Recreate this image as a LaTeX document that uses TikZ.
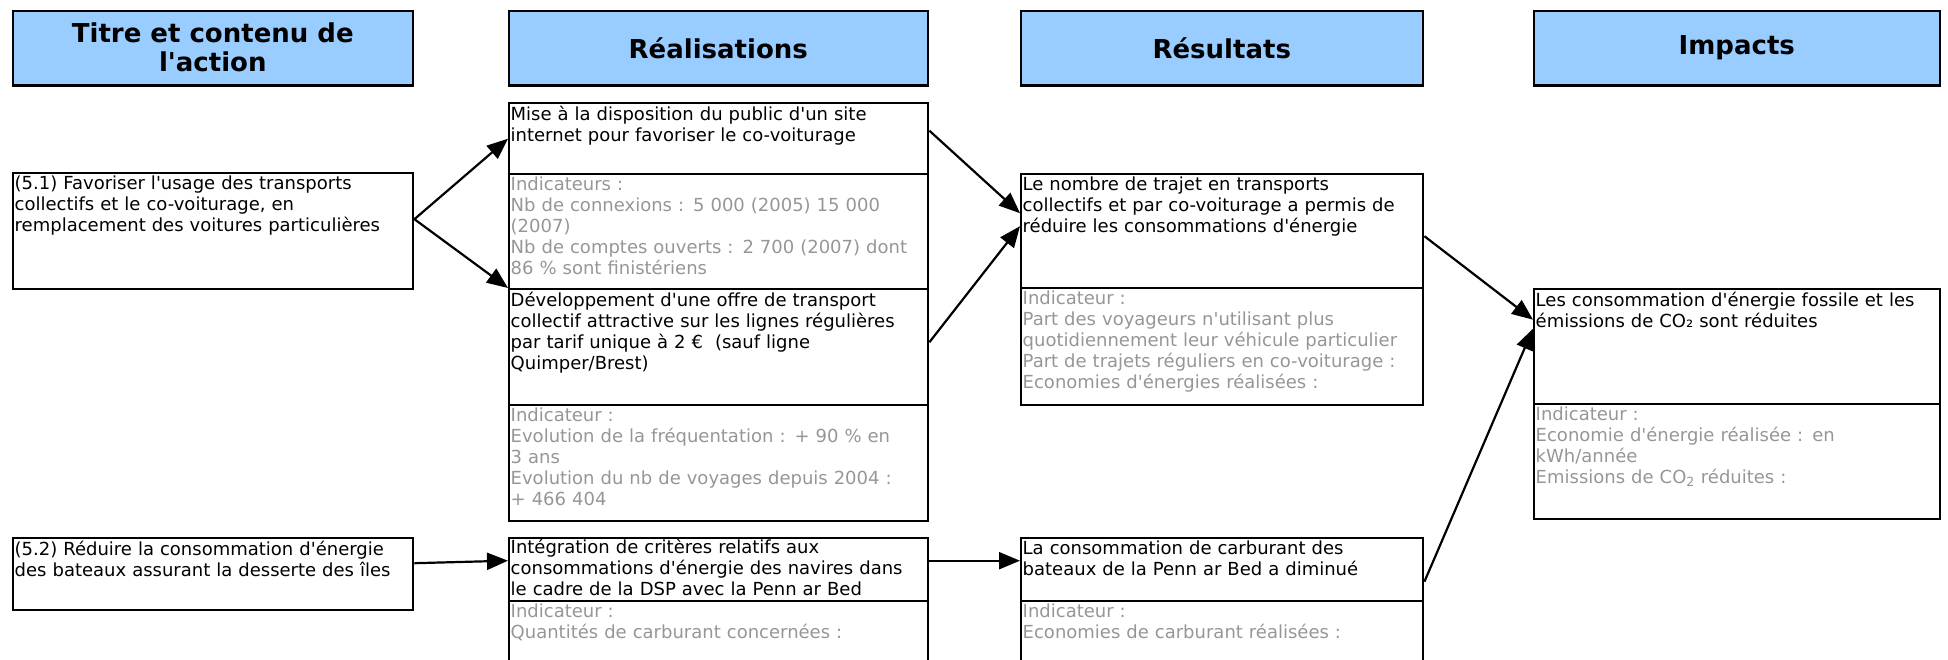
\documentclass[tikz,border=0pt]{standalone}
\usepackage{fontspec}
\setmainfont{DejaVu Sans}[Ligatures=TeXOff]
\usetikzlibrary{arrows.meta}
\definecolor{headblue}{RGB}{153,204,255}
\definecolor{indgray}{RGB}{150,150,150}
\begin{document}
\begin{tikzpicture}[x=1pt,y=-1pt]
	\tikzset{
		head/.style={draw, line width=1.6pt, fill=headblue, anchor=north west, inner sep=0pt, align=center, font=\fontsize{26}{29}\selectfont\bfseries},
		part/.style={draw, line width=2.4pt, anchor=north west, inner sep=0pt},
		txt/.style={anchor=north west, inner xsep=2.5pt, inner ysep=3.5pt, align=left, font=\fontsize{18}{21}\selectfont},
		ind/.style={txt, text=indgray},
		link/.style={-{Triangle[length=21pt,width=17pt]}, line width=2.2pt}
	}
	\useasboundingbox (0,0) rectangle (1948,660);
	\node[head, minimum width=400pt, minimum height=74pt] (h1) at (12,10) {Titre et contenu de\\l'action};
	\node[head, minimum width=419pt, minimum height=74pt] (h2) at (508,10) {Réalisations};
	\node[head, minimum width=402pt, minimum height=74pt] (h3) at (1020,10) {Résultats};
	\node[head, minimum width=406pt, minimum height=74pt] (h4) at (1533,10) {Impacts};
	\foreach \h in {h1,h2,h3,h4}
		\draw[line width=3.5pt] (\h.south west) -- (\h.south east);

	\node[part, minimum width=400pt, minimum height=116pt] (a1) at (12,172) {};
	\node[txt, text width=395pt] (a1t) at (a1.north west) {(5.1) Favoriser l'usage des transports\\collectifs et le co-voiturage, en\\remplacement des voitures particulières};
	\node[part, minimum width=400pt, minimum height=72pt] (a2) at (12,537) {};
	\node[txt, text width=395pt] (a2t) at (a2.north west) {(5.2) Réduire la consommation d'énergie\\des bateaux assurant la desserte des îles};

	\node[part, minimum width=419pt, minimum height=71pt] (r1) at (508,102) {};
	\node[txt, text width=414pt] (r1t) at (r1.north west) {Mise à la disposition du public d'un site\\internet pour favoriser le co-voiturage};
	\node[part, minimum width=419pt, minimum height=115pt] (r1i) at (508,173) {};
	\node[ind, text width=414pt] (r1it) at (r1i.north west) {Indicateurs :\\Nb de connexions : 5 000 (2005) 15 000\\(2007)\\Nb de comptes ouverts : 2 700 (2007) dont\\86 \% sont finistériens};
	\node[part, minimum width=419pt, minimum height=116pt] (r2) at (508,288) {};
	\node[txt, text width=414pt] (r2t) at (r2.north west) {Développement d'une offre de transport\\collectif attractive sur les lignes régulières\\par tarif unique à 2 €\ \ (sauf ligne\\Quimper/Brest)};
	\node[part, minimum width=419pt, minimum height=116pt] (r2i) at (508,404) {};
	\node[ind, text width=414pt] (r2it) at (r2i.north west) {Indicateur :\\Evolution de la fréquentation : + 90 \% en\\3 ans\\Evolution du nb de voyages depuis 2004 :\\+ 466 404};
	\node[part, minimum width=419pt, minimum height=63pt] (r3) at (508,537) {};
	\node[txt, text width=414pt, inner ysep=2pt] (r3t) at (r3.north west) {Intégration de critères relatifs aux\\consommations d'énergie des navires dans\\le cadre de la DSP avec la Penn ar Bed};
	\node[part, minimum width=419pt, minimum height=80pt] (r3i) at (508,600) {};
	\node[ind, text width=414pt] (r3it) at (r3i.north west) {Indicateur :\\Quantités de carburant concernées :};

	\node[part, minimum width=402pt, minimum height=114pt] (s1) at (1020,173) {};
	\node[txt, text width=397pt] (s1t) at (s1.north west) {Le nombre de trajet en transports\\collectifs et par co-voiturage a permis de\\réduire les consommations d'énergie};
	\node[part, minimum width=402pt, minimum height=117pt] (s1i) at (1020,287) {};
	\node[ind, text width=397pt] (s1it) at (s1i.north west) {Indicateur :\\Part des voyageurs n'utilisant plus\\quotidiennement leur véhicule particulier\\Part de trajets réguliers en co-voiturage :\\Economies d'énergies réalisées :};
	\node[part, minimum width=402pt, minimum height=63pt] (s2) at (1020,537) {};
	\node[txt, text width=397pt] (s2t) at (s2.north west) {La consommation de carburant des\\bateaux de la Penn ar Bed a diminué};
	\node[part, minimum width=402pt, minimum height=80pt] (s2i) at (1020,600) {};
	\node[ind, text width=397pt] (s2it) at (s2i.north west) {Indicateur :\\Economies de carburant réalisées :};

	\node[part, minimum width=406pt, minimum height=115pt] (i1) at (1533,288) {};
	\node[txt, text width=401pt] (i1t) at (i1.north west) {Les consommation d'énergie fossile et les\\émissions de CO₂ sont réduites};
	\node[part, minimum width=406pt, minimum height=115pt] (i1i) at (1533,403) {};
	\node[ind, text width=401pt] (i1it) at (i1i.north west) {Indicateur :\\Economie d'énergie réalisée : en\\kWh/année\\Emissions de CO\textsubscript{2} réduites :};

	\draw[link] ([yshift=12pt]a1.east) -- (r1.west);
	\draw[link] ([yshift=12pt]a1.east) -- (r2.north west);
	\draw[link] ([yshift=8pt]r1.east) -- ([yshift=18pt]s1.west);
	\draw[link] ([yshift=5pt]r2.east) -- ([yshift=5pt]s1.west);
	\draw[link] ([yshift=-5pt]s1.east) -- ([yshift=27pt]i1.west);
	\draw[link] ([yshift=-12pt]s2.east) -- ([yshift=18pt]i1.west);
	\draw[link] ([yshift=11pt]a2.east) -- ([yshift=9pt]r3.west);
	\draw[link] ([yshift=9pt]r3.east) -- ([yshift=9pt]s2.west);
\end{tikzpicture}
\end{document}
